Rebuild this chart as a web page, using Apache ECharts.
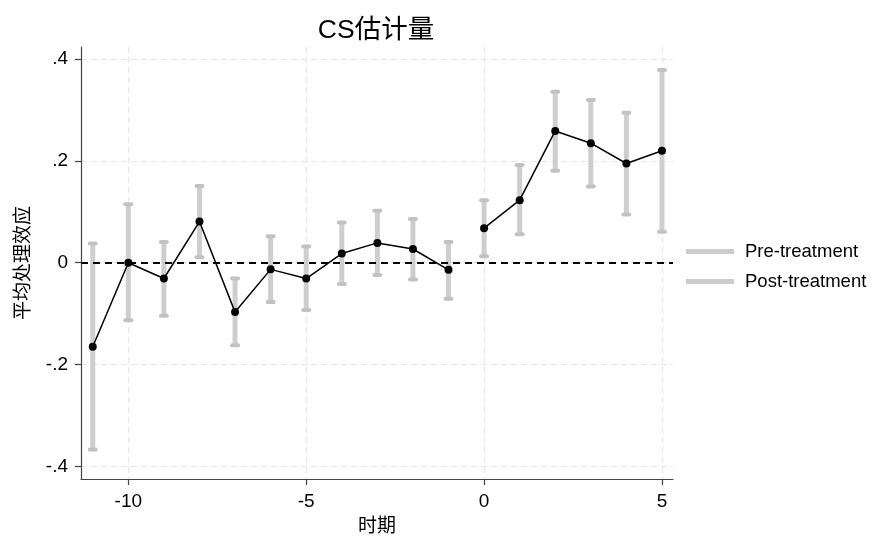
<!DOCTYPE html>
<html>
<head>
<meta charset="utf-8">
<script src="https://cdn.jsdelivr.net/npm/echarts@6/dist/echarts.min.js"></script>
<style>html,body{margin:0;padding:0;background:#fff;}#c{width:873px;height:538px;}</style>
</head>
<body>
<div id="c"></div>
<script>
const periods = [-11,-10,-9,-8,-7,-6,-5,-4,-3,-2,-1,0,1,2,3,4,5];
const estimates = [-0.165,0.000,-0.031,0.081,-0.097,-0.013,-0.031,0.018,0.039,0.027,-0.014,0.068,0.123,0.259,0.235,0.195,0.220];
const lowerCI = [-0.367,-0.113,-0.104,0.011,-0.162,-0.077,-0.093,-0.042,-0.024,-0.033,-0.071,0.013,0.056,0.181,0.150,0.095,0.061];
const upperCI = [0.038,0.115,0.041,0.151,-0.031,0.052,0.032,0.079,0.102,0.086,0.041,0.123,0.192,0.336,0.320,0.295,0.379];
const xTicks = [-10,-5,0,5];
const yTicks = [-0.4,-0.2,0,0.2,0.4];
const seriesNames = ['Pre-treatment','Post-treatment'];

const FONT = '"Liberation Sans", "Noto Sans CJK SC", sans-serif';

const preCI = [], postCI = [], preEst = [], postEst = [];
periods.forEach((p,i)=>{
  if (p < 0) { preCI.push([p, lowerCI[i], upperCI[i]]); preEst.push([p, estimates[i]]); }
  else { postCI.push([p, lowerCI[i], upperCI[i]]); postEst.push([p, estimates[i]]); }
});

function renderCI(params, api) {
  const x = api.value(0), lo = api.value(1), hi = api.value(2);
  const a = api.coord([x, lo]), b = api.coord([x, hi]);
  const cap = (pt) => ({type:'line', shape:{x1:pt[0]-3, y1:pt[1], x2:pt[0]+3, y2:pt[1]},
    style:{stroke:'#c2c2c2', lineWidth:4, lineCap:'round'}});
  return {type:'group', children:[
    {type:'line', shape:{x1:a[0], y1:a[1], x2:b[0], y2:b[1]}, style:{stroke:'#cecece', lineWidth:5}},
    cap(a), cap(b)
  ]};
}

function yFmt(v) {
  if (Math.abs(v) < 1e-9) return '0';
  const s = String(Math.abs(+v.toFixed(4))).replace(/^0/, '');
  return (v < 0 ? '-' : '') + s;
}

const chart = echarts.init(document.getElementById('c'), null, {renderer:'canvas'});
chart.setOption({
  animation: false,
  backgroundColor: '#fff',
  title: {
    text: 'CS估计量', left: 371, textAlign: 'center', top: 12,
    textStyle: {fontFamily: FONT, fontSize: 26.5, fontWeight: 'normal', color: '#000'}
  },
  legend: {
    orient: 'vertical', left: 681, top: 237, itemGap: 11,
    itemWidth: 48, itemHeight: 5, icon: 'rect',
    data: seriesNames,
    textStyle: {fontFamily: FONT, fontSize: 18.5, color: '#000', lineHeight: 19, padding: [0,0,0,6]}
  },
  grid: {left: 81, right: 200, top: 47, bottom: 59, containLabel: false, outerBoundsMode: 'none'},
  xAxis: {
    type: 'value', min: -11.33, max: 5.31,
    name: '时期', nameLocation: 'middle', nameGap: 38,
    nameTextStyle: {fontFamily: FONT, fontSize: 19, color: '#000'},
    axisLine: {show: true, onZero: false, lineStyle: {color: '#444', width: 1.2}},
    axisTick: {show: true, length: 6, customValues: xTicks, lineStyle: {color: '#444', width: 1.2}},
    axisLabel: {customValues: xTicks, margin: 13, fontFamily: FONT, fontSize: 19, color: '#000'},
    splitLine: {show: true, lineStyle: {color: '#e6e6e6', type: [6,4], width: 1.2}}
  },
  yAxis: {
    type: 'value', min: -0.425, max: 0.424,
    name: '平均处理效应', nameLocation: 'middle', nameGap: 48,
    nameTextStyle: {fontFamily: FONT, fontSize: 19, color: '#000'},
    axisLine: {show: true, onZero: false, lineStyle: {color: '#444', width: 1.2}},
    axisTick: {show: true, length: 6, customValues: yTicks, lineStyle: {color: '#444', width: 1.2}},
    axisLabel: {customValues: yTicks, margin: 13, fontFamily: FONT, fontSize: 19, color: '#000', formatter: yFmt},
    splitLine: {show: true, lineStyle: {color: '#e6e6e6', type: [6,4], width: 1.2}}
  },
  series: [
    {name: seriesNames[0], type: 'custom', renderItem: renderCI, data: preCI,
     encode: {x: 0, y: [1,2]}, itemStyle: {color: '#cccccc'}, z: 2, silent: true},
    {name: seriesNames[1], type: 'custom', renderItem: renderCI, data: postCI,
     encode: {x: 0, y: [1,2]}, itemStyle: {color: '#cccccc'}, z: 2, silent: true},
    {name: 'pre-est', type: 'line', data: preEst, symbol: 'circle', symbolSize: 8,
     lineStyle: {color: '#000', width: 1.5}, itemStyle: {color: '#000'}, z: 5,
     markLine: {silent: true, symbol: 'none', label: {show: false}, z: 3,
       lineStyle: {color: '#000', type: [7,5], width: 2}, data: [{yAxis: 0}]}},
    {name: 'post-est', type: 'line', data: postEst, symbol: 'circle', symbolSize: 8,
     lineStyle: {color: '#000', width: 1.5}, itemStyle: {color: '#000'}, z: 5}
  ]
});
</script>
</body>
</html>
